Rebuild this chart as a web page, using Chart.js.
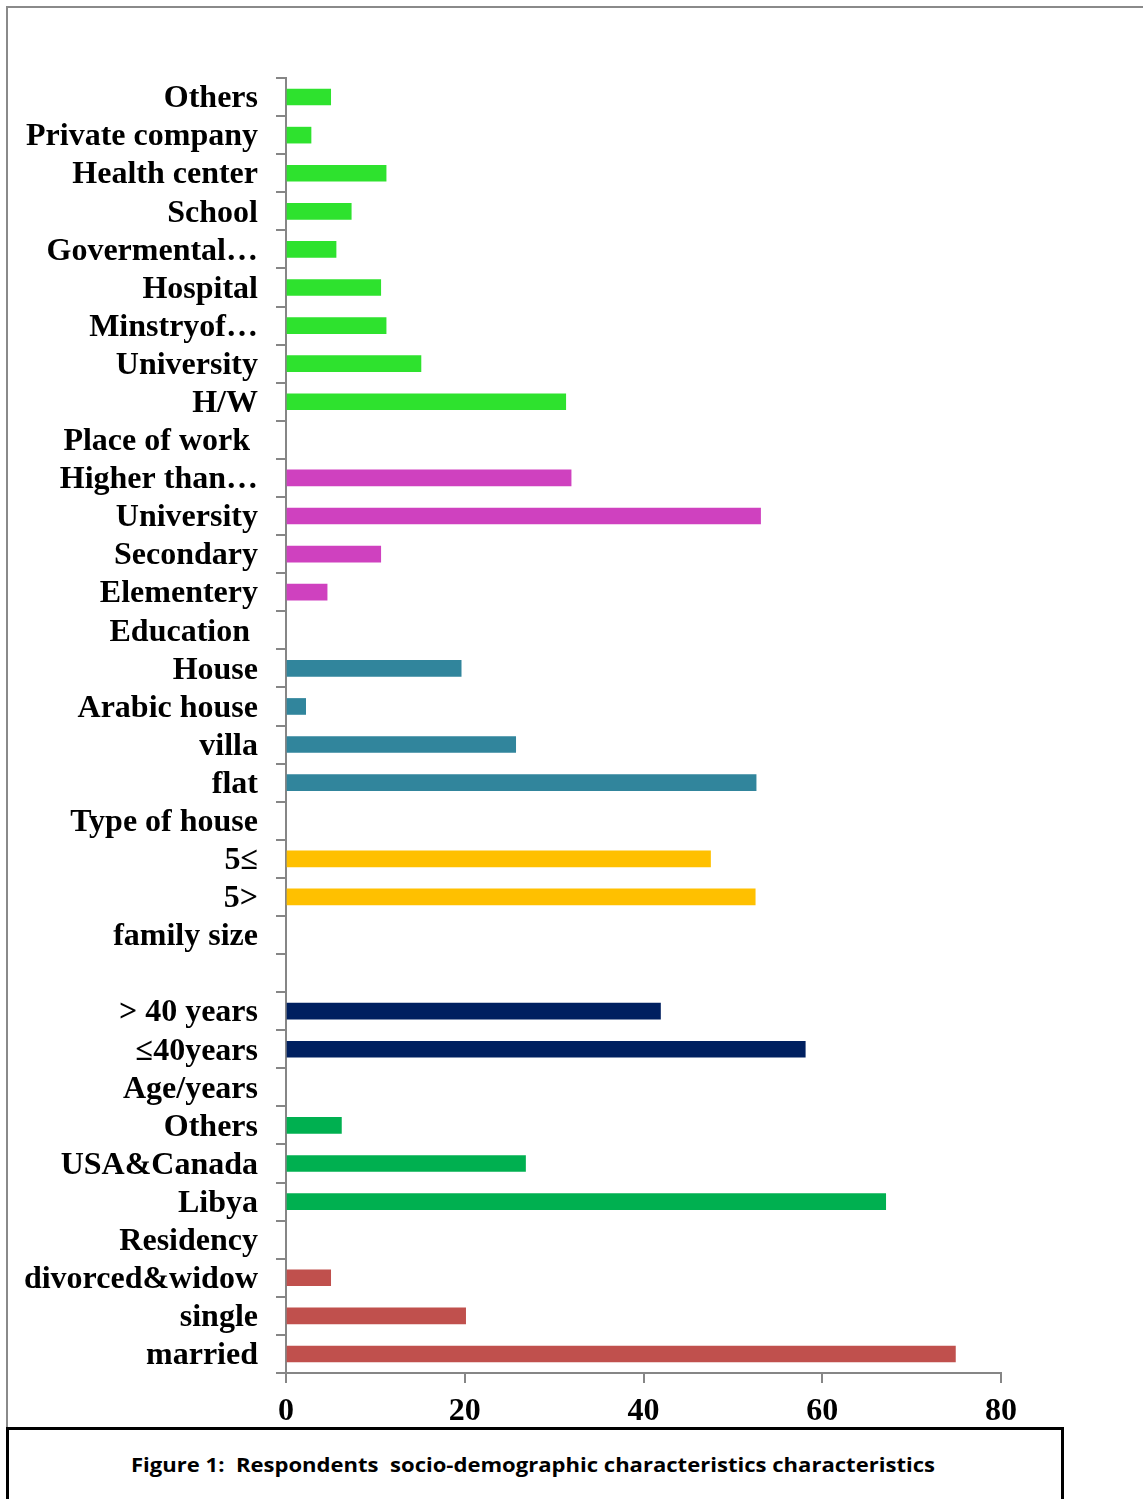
<!DOCTYPE html>
<html><head><meta charset="utf-8">
<script src="https://cdn.jsdelivr.net/npm/chart.js@4/dist/chart.umd.min.js"></script>
<style>
html,body{margin:0;padding:0;background:#fff;}
body{width:1143px;height:1499px;position:relative;overflow:hidden;}
#frame{position:absolute;left:6px;top:6px;width:1300px;height:1600px;border-left:2px solid #8a8a8a;border-top:2px solid #8a8a8a;}
#wrap{position:absolute;left:0;top:0;width:1143px;height:1430px;}
#caption{position:absolute;left:6px;top:1427px;width:1052px;height:120px;border:3px solid #000;background:#fff;}
#captext{position:absolute;left:131px;top:1453px;font-family:"Open Sans","Liberation Sans",sans-serif;font-weight:bold;font-size:20px;line-height:24px;white-space:pre;transform-origin:left top;color:#000;}
</style>
</head><body>
<div id="frame"></div>
<div id="wrap"><canvas id="c"></canvas></div>
<div id="caption"></div>
<div id="captext">Figure 1:  Respondents  socio-demographic characteristics characteristics</div>
<script>
// ---- data (top to bottom) ----
const workLabels = ['Others','Private company','Health center','School','Govermental…','Hospital','Minstryof…','University','H/W'];
const workValues = [5.0, 2.8, 11.2, 7.3, 5.6, 10.6, 11.2, 15.1, 31.3];
const educationLabels = ['Higher than…','University','Secondary','Elementery'];
const educationValues = [31.9, 53.1, 10.6, 4.6];
const houseLabels = ['House','Arabic house','villa','flat'];
const houseValues = [19.6, 2.2, 25.7, 52.6];
const familyLabels = ['5≤','5>'];
const familyValues = [47.5, 52.5];
const ageLabels = ['> 40 years','≤40years'];
const ageValues = [41.9, 58.1];
const residencyLabels = ['Others','USA&Canada','Libya'];
const residencyValues = [6.2, 26.8, 67.1];
const maritalLabels = ['divorced&widow','single','married'];
const maritalValues = [5.0, 20.1, 74.9];
const xTickValues = [0, 20, 40, 60, 80];

// ---- build table ----
const sections = [
  {labels: workLabels, values: workValues, after: ['Place of work '], color: '#2EE22E'},
  {labels: educationLabels, values: educationValues, after: ['Education '], color: '#CF41BF'},
  {labels: houseLabels, values: houseValues, after: ['Type of house'], color: '#31859C'},
  {labels: familyLabels, values: familyValues, after: ['family size', ''], color: '#FFC000'},
  {labels: ageLabels, values: ageValues, after: ['Age/years'], color: '#002060'},
  {labels: residencyLabels, values: residencyValues, after: ['Residency'], color: '#00B050'},
  {labels: maritalLabels, values: maritalValues, after: [], color: '#C0504D'}
];
const categories = [];
const positions = [];
sections.forEach(s => {
  const idx = [];
  s.labels.forEach(l => { idx.push(categories.length); categories.push(l); });
  positions.push(idx);
  s.after.forEach(l => categories.push(l));
});
const datasets = sections.map((s, si) => {
  const data = new Array(categories.length).fill(null);
  positions[si].forEach((p, k) => { data[p] = s.values[k]; });
  return {data, backgroundColor: s.color, borderWidth: 0, barThickness: 16, grouped: false};
});

const GRAY = '#868686';
new Chart(document.getElementById('c'), {
  type: 'bar',
  data: {labels: categories, datasets},
  options: {
    indexAxis: 'y',
    responsive: true,
    maintainAspectRatio: false,
    animation: false,
    events: [],
    layout: {padding: {top: 78, right: 142, left: 0, bottom: 0}},
    plugins: {legend: {display: false}, tooltip: {enabled: false}},
    scales: {
      y: {
        afterFit: s => { s.width = 286; },
        ticks: {autoSkip: false, color: '#000', padding: 18, labelOffset: 2,
          font: {family: '"Liberation Serif","Times New Roman",serif', weight: 'bold', size: 32}},
        grid: {drawOnChartArea: false, drawTicks: true, tickLength: 10, color: GRAY, lineWidth: 2},
        border: {color: GRAY, width: 2}
      },
      x: {
        min: 0, max: 80,
        afterFit: s => { s.height = 57; },
        afterBuildTicks: s => { s.ticks = xTickValues.map(v => ({value: v})); },
        ticks: {color: '#000', padding: 10,
          font: {family: '"Liberation Serif","Times New Roman",serif', weight: 'bold', size: 32}},
        grid: {drawOnChartArea: false, drawTicks: true, tickLength: 10, color: GRAY, lineWidth: 2},
        border: {color: GRAY, width: 2}
      }
    }
  }
});

// fit caption width
const cap = document.getElementById('captext');
const w = cap.getBoundingClientRect().width;
cap.style.transform = 'scaleX(' + (804 / w) + ')';
</script>
</body></html>
